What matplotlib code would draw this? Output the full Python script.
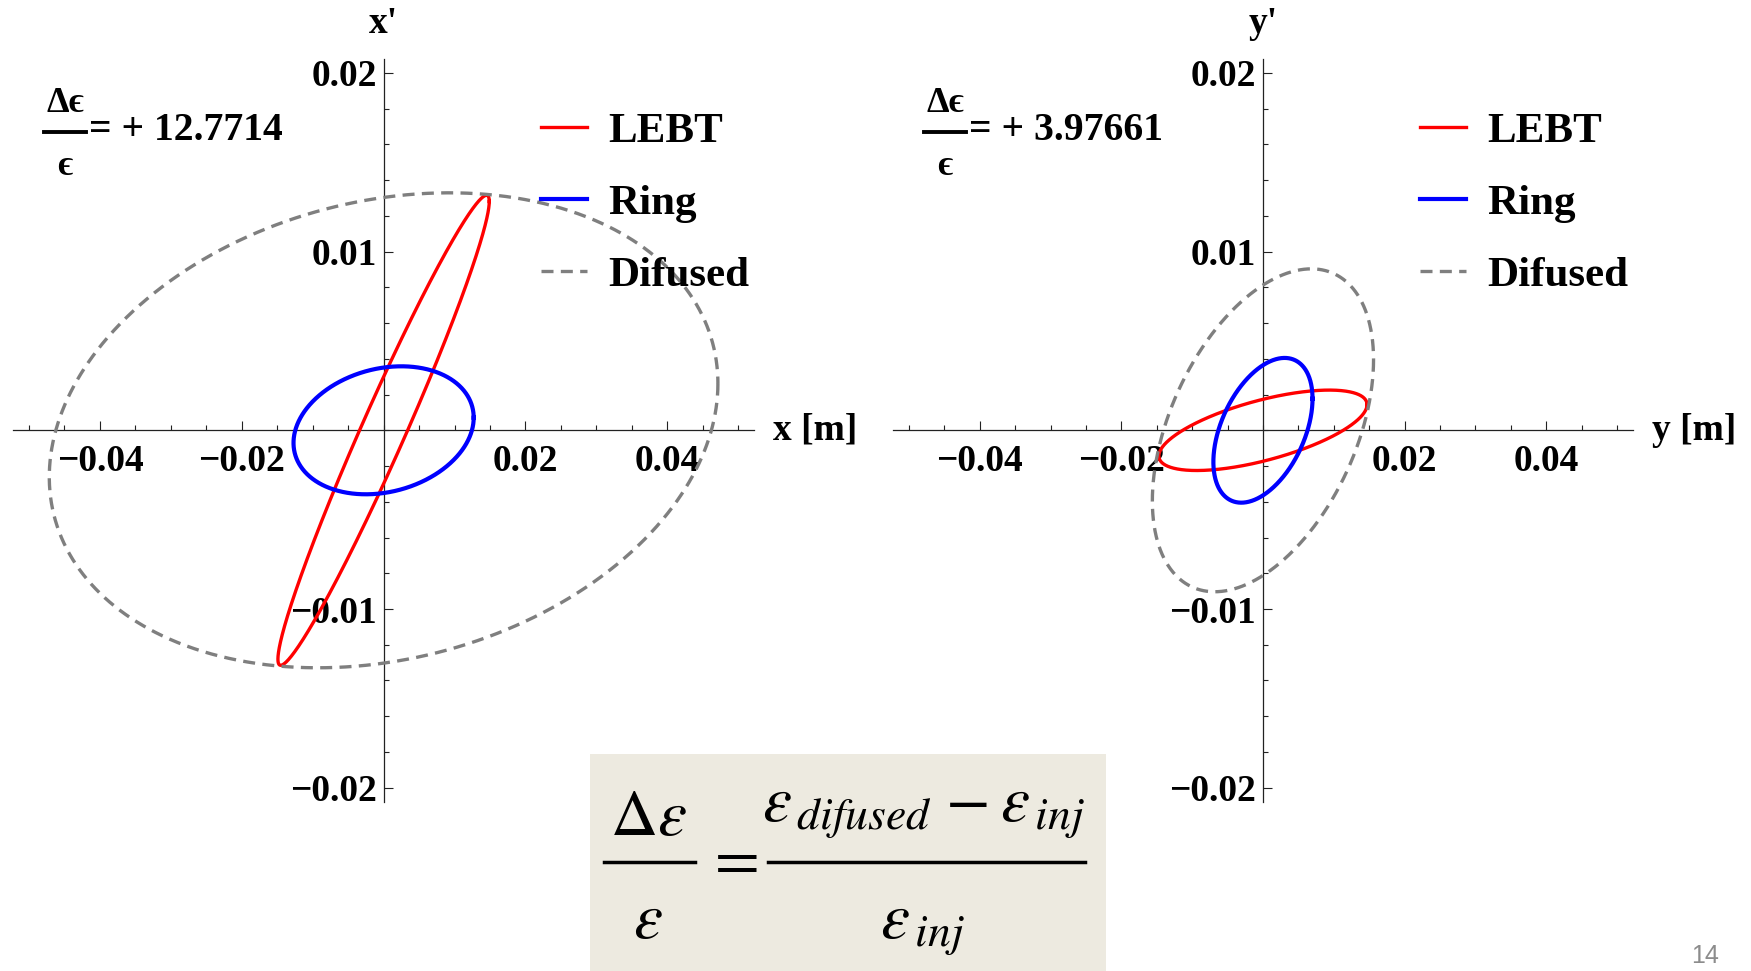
import numpy as np
import matplotlib
matplotlib.use("Agg")
import matplotlib.pyplot as plt
from matplotlib.lines import Line2D
from matplotlib.patches import Rectangle
from matplotlib.ticker import FixedLocator, MultipleLocator

plt.rcParams['font.family'] = ['Liberation Serif', 'DejaVu Serif']
plt.rcParams['font.weight'] = 'normal'
plt.rcParams['mathtext.fontset'] = 'stix'

# ---- beam data per transverse plane -------------------------------------
planes = ["x", "y"]
emit_inj = [4.46e-5, 2.55e-5]          # injected emittance [m rad]
growth = [12.7714, 3.97661]            # relative emittance growth  Δε/ε
lebt_beta = [4.978, 8.474]             # LEBT Twiss beta [m]
lebt_alpha = [-4.278, -0.826]          # LEBT Twiss alpha
ring_beta = [3.618, 1.922]             # ring Twiss beta [m]
ring_alpha = [-0.2008, -0.486]         # ring Twiss alpha

series = ["LEBT", "Ring", "Difused"]
x_major = [-0.04, -0.02, 0.02, 0.04]
x_labels = ["\u22120.04", "\u22120.02", "0.02", "0.04"]
y_major = [-0.02, -0.01, 0.01, 0.02]
y_labels = ["\u22120.02", "\u22120.01", "0.01", "0.02"]


def twiss_ellipse(beta, alpha, eps, n=1441):
    t = np.linspace(0.0, 2.0 * np.pi, n)
    u = np.sqrt(eps * beta) * np.cos(t)
    up = -np.sqrt(eps / beta) * (alpha * np.cos(t) + np.sin(t))
    return u, up


W, H = 1751, 971
fig = plt.figure(figsize=(W / 100, H / 100), dpi=100)

axes_boxes = [
    [13.4 / W, 1 - 802.0 / H, 740.4 / W, 743.4 / H],
    [893.3 / W, 1 - 802.0 / H, 739.3 / W, 743.4 / H],
]
legend_anchor = [(541 / W, 1 - 112 / H), (1420 / W, 1 - 112 / H)]
frac_x = [65 / W, 945 / W]

for i, plane in enumerate(planes):
    ax = fig.add_axes(axes_boxes[i])
    ax.set_facecolor("none")
    ax.set_xlim(-0.0522, 0.0522)
    ax.set_ylim(-0.0208, 0.0208)

    eps = emit_inj[i]
    eps_dif = eps * (1.0 + growth[i])
    u1, v1 = twiss_ellipse(lebt_beta[i], lebt_alpha[i], eps)
    u2, v2 = twiss_ellipse(ring_beta[i], ring_alpha[i], eps)
    u3, v3 = twiss_ellipse(ring_beta[i], ring_alpha[i], eps_dif)
    ax.plot(u1, v1, color="#ff0000", lw=2.4, label=series[0], zorder=3)
    ax.plot(u2, v2, color="#0000ff", lw=3.0, label=series[1], zorder=4)
    ax.plot(u3, v3, color="#7f7f7f", lw=2.4, ls=(0, (3.6, 2.2)),
            label=series[2], zorder=5)

    for side in ("top", "right"):
        ax.spines[side].set_visible(False)
    for side in ("left", "bottom"):
        ax.spines[side].set_position(("data", 0))
        ax.spines[side].set_linewidth(0.9)
        ax.spines[side].set_color("#222222")

    ax.xaxis.set_major_locator(FixedLocator(x_major))
    ax.set_xticklabels(x_labels, fontweight="bold")
    ax.xaxis.set_minor_locator(MultipleLocator(0.005))
    ax.yaxis.set_major_locator(FixedLocator(y_major))
    ax.set_yticklabels(y_labels, fontweight="bold")
    ax.yaxis.set_minor_locator(MultipleLocator(0.002))
    ax.tick_params(which="both", direction="in", width=0.8, color="#222222")
    ax.tick_params(which="major", length=6.5, labelsize=27)
    ax.tick_params(which="minor", length=3.8)
    ax.tick_params(axis="x", which="major", pad=10)
    ax.tick_params(axis="y", which="major", pad=5)

    ax.annotate(plane + "'", xy=(0, 1), xycoords=("data", "axes fraction"),
                xytext=(0, 25), textcoords="offset points",
                ha="center", va="center", fontsize=27, fontweight="bold")
    ax.annotate(plane + " [m]", xy=(1, 0), xycoords=("axes fraction", "data"),
                xytext=(14, 0), textcoords="offset points",
                ha="left", va="center", fontsize=27, fontweight="bold")

    ax.legend(loc="upper left", bbox_to_anchor=legend_anchor[i],
              bbox_transform=fig.transFigure, frameon=False,
              prop={"size": 31, "weight": "bold"}, handlelength=1.07,
              handletextpad=0.5, labelspacing=0.76, borderpad=0,
              borderaxespad=0)

    # Δϵ/ϵ annotation
    fx = frac_x[i]
    fig.text(fx, 1 - 104 / H, "\u0394\u03f5", ha="center", va="center",
             fontsize=26, fontweight="bold")
    fig.add_artist(Line2D([fx - 21 / W, fx + 21 / W], [1 - 132 / H, 1 - 132 / H],
                          color="black", lw=2.8, transform=fig.transFigure))
    fig.text(fx, 1 - 166 / H, "\u03f5", ha="center", va="center",
             fontsize=26, fontweight="bold")
    fig.text(fx + 24 / W, 1 - 131 / H, f"= + {growth[i]}", ha="left",
             va="center", fontsize=28.5, fontweight="bold")

# ---- definition box -------------------------------------------------------
fig.add_artist(Rectangle((590 / W, 0), 516 / W, 1 - 754.5 / H,
                         transform=fig.transFigure, facecolor="#edeae0",
                         edgecolor="none", zorder=0))
fs = 47
fig.text(648 / W, 1 - 835 / H, r"$\Delta\varepsilon$", ha="center",
         va="baseline", fontsize=fs)
fig.text(648 / W, 1 - 938 / H, r"$\varepsilon$", ha="center",
         va="baseline", fontsize=fs)
fig.add_artist(Line2D([604 / W, 695 / W], [1 - 862 / H, 1 - 862 / H],
                      color="black", lw=2.5, transform=fig.transFigure))
fig.text(731 / W, 1 - 862 / H, r"$=$", ha="center", va="center", fontsize=fs)
fig.text(923 / W, 1 - 821 / H,
         r"$\varepsilon_{\,difused}\;\!-\varepsilon_{\,inj}$",
         ha="center", va="baseline", fontsize=fs)
fig.add_artist(Line2D([768 / W, 1085 / W], [1 - 862 / H, 1 - 862 / H],
                      color="black", lw=2.5, transform=fig.transFigure))
fig.text(922 / W, 1 - 938 / H, r"$\varepsilon_{\,inj}$", ha="center",
         va="baseline", fontsize=fs)

fig.text(1705 / W, 1 - 968 / H, "14", ha="center", va="bottom", fontsize=18,
         color="#8c8c8c", family="Liberation Sans")

fig.savefig("out.png", dpi=100)
